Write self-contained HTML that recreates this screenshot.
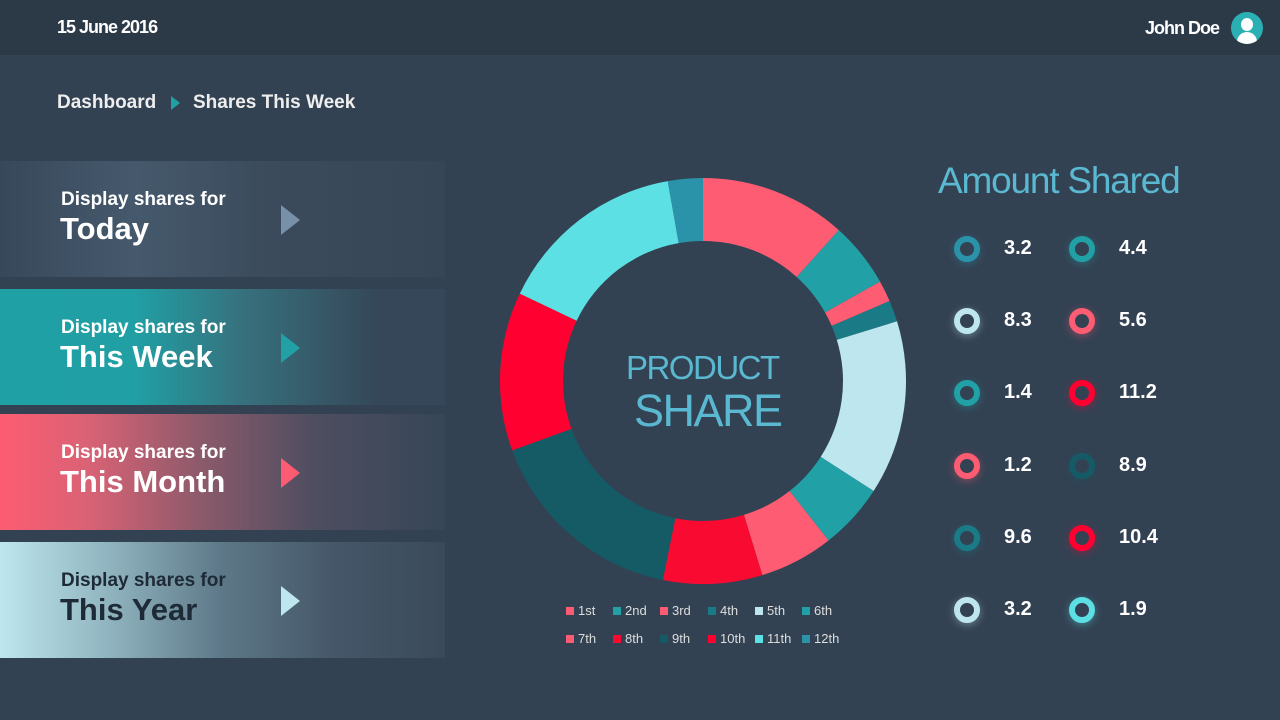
<!DOCTYPE html>
<html><head><meta charset="utf-8"><style>
body{margin:0;width:1280px;height:720px;background:#334253;font-family:"Liberation Sans",sans-serif;position:relative;overflow:hidden;color:#fff}
.hdr{position:absolute;left:0;top:0;width:1280px;height:55px;background:#2c3a48}
.t{position:absolute;white-space:nowrap}
.panel{position:absolute;left:0;width:445px;height:116px}
.small{position:absolute;left:61px;top:28px;font-size:19px;font-weight:bold}
.big{position:absolute;left:60px;top:50px;font-size:31px;font-weight:bold}
.arr{position:absolute;left:281px;top:44px;width:0;height:0;border-top:15px solid transparent;border-bottom:15px solid transparent;border-left:19px solid}
.ring{position:absolute;width:14px;height:14px;border-radius:50%;border:6px solid}
.val{position:absolute;font-size:20px;font-weight:bold}
.lg{position:absolute;font-size:13px;color:#ddd}
.lg i{display:inline-block;width:8px;height:8px;margin-right:4px}
</style></head><body>
<div class="hdr"></div>
<div class="t" style="left:57px;top:17px;font-size:18px;font-weight:bold;letter-spacing:-1px">15 June 2016</div>
<div class="t" style="left:1145px;top:18px;font-size:18px;font-weight:bold;letter-spacing:-1px">John Doe</div>
<div style="position:absolute;left:1231px;top:12px;width:32px;height:32px;border-radius:50%;background:#2ab0b3;overflow:hidden"><div style="position:absolute;left:10px;top:6px;width:12px;height:13px;border-radius:50%;background:#fff"></div><div style="position:absolute;left:6px;top:20px;width:20px;height:16px;border-radius:10px 10px 0 0;background:#fff"></div></div>
<div class="t" style="left:57px;top:92px;font-size:19px;font-weight:bold;color:#eee">Dashboard</div>
<div style="position:absolute;left:171px;top:96px;border-top:7px solid transparent;border-bottom:7px solid transparent;border-left:9px solid #21a0a6"></div>
<div class="t" style="left:193px;top:92px;font-size:19px;font-weight:bold;color:#eee">Shares This Week</div>

<div class="panel" style="top:161px;background:linear-gradient(90deg,#37485a 0%,#46596c 30%,#3b4b5c 60%,#364657 100%)"><div class="small">Display shares for</div><div class="big">Today</div><div class="arr" style="border-left-color:#7890a8"></div></div>
<div class="panel" style="top:289px;background:linear-gradient(90deg,#1fa0a5 0%,#20a0a5 30%,#37707c 55%,#354758 85%)"><div class="small">Display shares for</div><div class="big">This Week</div><div class="arr" style="border-left-color:#21a0a6"></div></div>
<div class="panel" style="top:414px;background:linear-gradient(90deg,#fd5c72 0%,#d96275 20%,#8c5a6b 45%,#4f4e60 70%,#364657 100%)"><div class="small">Display shares for</div><div class="big">This Month</div><div class="arr" style="border-left-color:#fd5c72"></div></div>
<div class="panel" style="top:542px;background:linear-gradient(90deg,#bde6ee 0%,#8fb3be 25%,#5d7888 50%,#455768 75%,#3a4a5b 100%)"><div class="small" style="color:#1e2a36">Display shares for</div><div class="big" style="color:#1e2a36">This Year</div><div class="arr" style="border-left-color:#bde6ee"></div></div>

<svg id="d" style="position:absolute;left:0;top:0" width="1280" height="720"></svg>
<div class="t" style="left:626px;top:349px;font-size:33px;color:#5ab8d0;letter-spacing:-1.5px">PRODUCT</div>
<div class="t" style="left:634px;top:385px;font-size:45px;color:#5ab8d0;letter-spacing:-1.5px">SHARE</div>

<div class="t" style="left:938px;top:160px;font-size:37px;color:#5ab8d0;letter-spacing:-1.2px">Amount Shared</div>
<div id="rings"></div>
<div id="leg"></div>
<script>
var cx=703,cy=381,R=203,r=140;
var b=[0,42,60.7,66.8,72.9,122.8,141.8,163,191.4,250,295.5,350,360];
var c=["#fd5c72","#21a0a6","#fd5c72","#1a7b87","#bde6ee","#21a0a6","#fd5c72","#f90a30","#155b66","#ff0030","#5ce0e3","#2a93aa"];
var s="";
function p(a,rad){a=a*Math.PI/180;return (cx+rad*Math.sin(a)).toFixed(2)+","+(cy-rad*Math.cos(a)).toFixed(2)}
for(var i=0;i<12;i++){var a0=b[i],a1=b[i+1],l=(a1-a0)>180?1:0;
s+='<path fill="'+c[i]+'" d="M'+p(a0,R)+' A'+R+','+R+' 0 '+l+' 1 '+p(a1,R)+' L'+p(a1,r)+' A'+r+','+r+' 0 '+l+' 0 '+p(a0,r)+'Z"/>';}
document.getElementById('d').innerHTML=s;
var rc=[["#2a93aa","3.2","#21a0a6","4.4"],["#bde6ee","8.3","#fd5c72","5.6"],["#21a0a6","1.4","#ff0030","11.2"],["#fd5c72","1.2","#155b66","8.9"],["#1a7b87","9.6","#ff0030","10.4"],["#bde6ee","3.2","#5ce0e3","1.9"]];
var h="";
for(var j=0;j<6;j++){var y=249+j*72.2;
h+='<div class="ring" style="left:954px;top:'+(y-13)+'px;border-color:'+rc[j][0]+';box-shadow:0 2px 8px '+rc[j][0]+'66"></div><div class="val" style="left:1004px;top:'+(y-12)+'px">'+rc[j][1]+'</div>';
h+='<div class="ring" style="left:1069px;top:'+(y-13)+'px;border-color:'+rc[j][2]+';box-shadow:0 2px 8px '+rc[j][2]+'66"></div><div class="val" style="left:1119px;top:'+(y-12)+'px">'+rc[j][3]+'</div>';}
document.getElementById('rings').innerHTML=h;
var ln=["1st","2nd","3rd","4th","5th","6th","7th","8th","9th","10th","11th","12th"];
var xs=[566,613,660,708,755,802];var g="";
for(var k=0;k<12;k++){g+='<div class="lg" style="left:'+xs[k%6]+'px;top:'+(603+Math.floor(k/6)*28)+'px"><i style="background:'+c[k]+'"></i>'+ln[k]+'</div>';}
document.getElementById('leg').innerHTML=g;
</script>
</body></html>
